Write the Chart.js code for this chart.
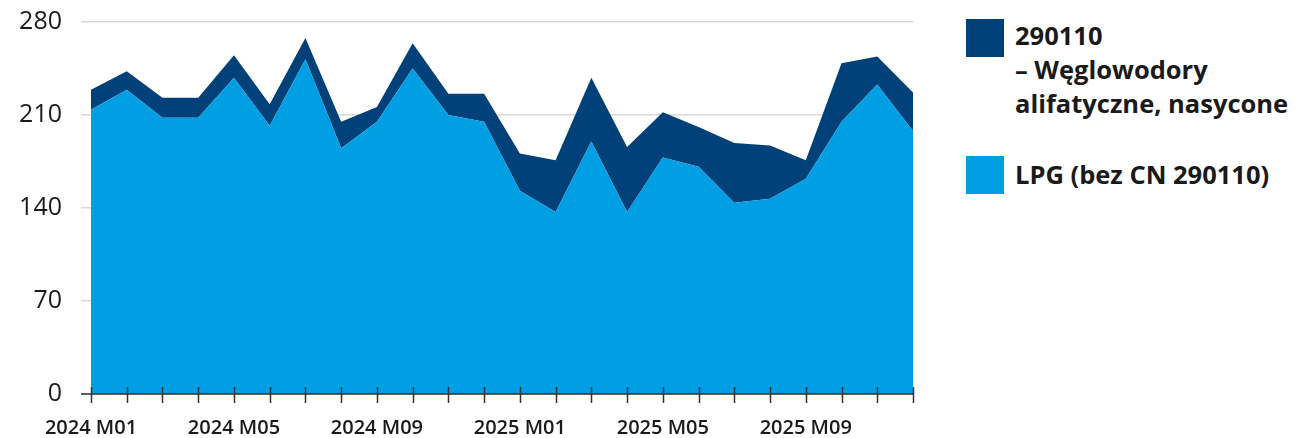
<!DOCTYPE html>
<html>
<head>
<meta charset="utf-8">
<script src="https://cdn.jsdelivr.net/npm/chart.js@4"></script>
<style>
  body { margin: 0; background: #fff; font-family: 'Open Sans', sans-serif; overflow: hidden; }
  #wrap { position: absolute; left: 0; top: -12px; width: 930px; height: 450px; }
  .legend { position: absolute; left: 966px; font-weight: 700; font-size: 25.5px; line-height: 34px; color: #1a1a1a; }
  .legend .box { position: absolute; left: 0; top: 0; width: 38px; height: 38px; }
  .legend .txt { position: absolute; left: 49px; white-space: nowrap; }
</style>
</head>
<body>
<div id="wrap"><canvas id="myChart"></canvas></div>

<div class="legend" style="top:19px">
  <div class="box" style="background:#00417a"></div>
  <div class="txt" style="top:-1px">290110<br>– Węglowodory<br>alifatyczne, nasycone</div>
</div>
<div class="legend" style="top:156px">
  <div class="box" style="background:#009fe3"></div>
  <div class="txt" style="top:1px">LPG (bez CN 290110)</div>
</div>

<script>
const months = [
  '2024 M01', '2024 M02', '2024 M03', '2024 M04', '2024 M05', '2024 M06',
  '2024 M07', '2024 M08', '2024 M09', '2024 M10', '2024 M11', '2024 M12',
  '2025 M01', '2025 M02', '2025 M03', '2025 M04', '2025 M05', '2025 M06',
  '2025 M07', '2025 M08', '2025 M09', '2025 M10', '2025 M11', '2025 M12'
];
const lpg = [214, 229, 208, 208, 238, 202, 252, 185, 205, 245, 210, 205,
             153, 137, 190, 137, 178, 171, 144, 147, 162, 205, 233, 198];
const weglowodory = [15, 14, 15, 15, 17, 16, 16, 20, 11, 19, 16, 21,
                     28, 39, 48, 49, 34, 30, 45, 40, 14, 44, 21, 29];
const yTicks = [0, 70, 140, 210, 280];

// tick marks crossing the x axis line
const axisTicks = {
  id: 'axisTicks',
  afterDatasetsDraw(chart) {
    const ctx = chart.ctx;
    const x = chart.scales.x;
    const y0 = chart.scales.y.getPixelForValue(0);
    ctx.save();
    ctx.strokeStyle = '#333';
    ctx.lineWidth = 1.5;
    ctx.beginPath();
    ctx.moveTo(81, y0);
    ctx.lineTo(x.right, y0);
    for (let i = 0; i < months.length; i++) {
      const px = Math.round(x.getPixelForValue(i)) + 0.5;
      ctx.moveTo(px, y0 - 7);
      ctx.lineTo(px, y0 + 9);
    }
    ctx.stroke();
    ctx.restore();
  }
};

new Chart(document.getElementById('myChart'), {
  type: 'line',
  data: {
    labels: months,
    datasets: [{
      label: 'LPG (bez CN 290110)',
      data: lpg,
      fill: 'origin',
      backgroundColor: '#009fe3',
      borderWidth: 0,
      pointRadius: 0,
      tension: 0
    }, {
      label: '290110 – Węglowodory alifatyczne, nasycone',
      data: weglowodory,
      fill: '-1',
      backgroundColor: '#00417a',
      borderWidth: 0,
      pointRadius: 0,
      tension: 0
    }]
  },
  options: {
    responsive: true,
    maintainAspectRatio: false,
    animation: false,
    layout: { padding: { top: 22, right: 17, left: 0, bottom: 0 } },
    plugins: { legend: { display: false }, tooltip: { enabled: false } },
    scales: {
      x: {
        offset: false,
        grid: { display: false },
        border: { display: false },
        ticks: {
          autoSkip: false,
          maxRotation: 0,
          padding: 14,
          color: '#1a1a1a',
          font: { family: 'Open Sans', size: 20, weight: 600 },
          callback: (v, i) => (i % 4 === 0 ? months[i] : '')
        },
        afterFit: (s) => { s.height = 44; }
      },
      y: {
        stacked: true,
        min: 0,
        max: 280,
        afterBuildTicks: (s) => { s.ticks = yTicks.map(v => ({ value: v })); },
        grid: { color: '#d9d9d9', lineWidth: 1.5, tickLength: 10 },
        border: { display: false },
        ticks: {
          padding: 19,
          color: '#1a1a1a',
          font: { family: 'Open Sans', size: 25 }
        },
        afterFit: (s) => { s.width = 91; }
      }
    }
  },
  plugins: [axisTicks]
});
</script>
</body>
</html>
